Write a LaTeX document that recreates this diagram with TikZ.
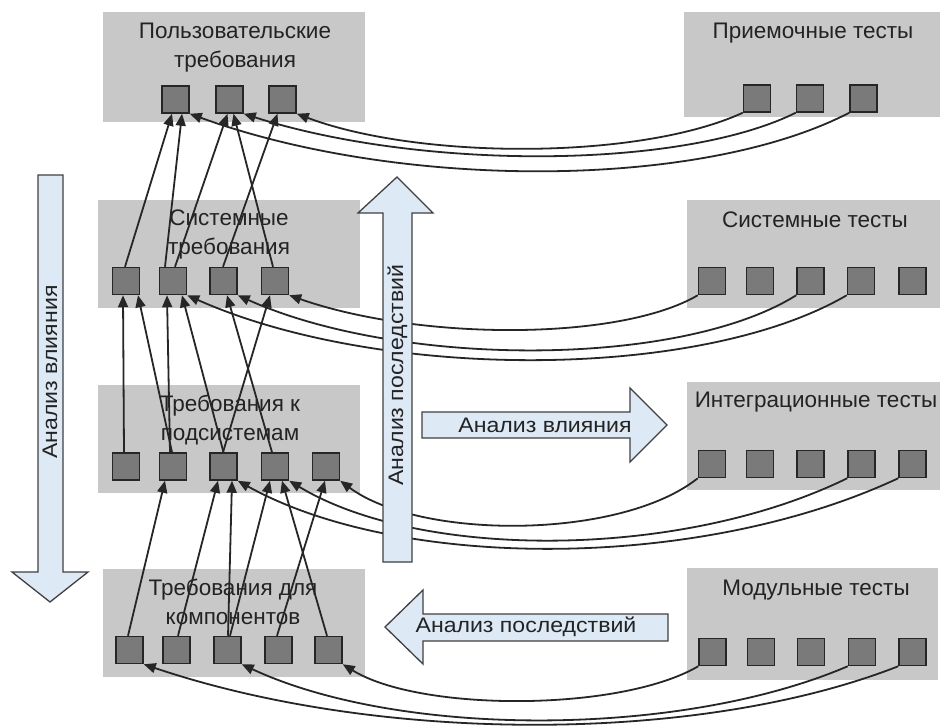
\documentclass[tikz,border=0pt]{standalone}
\usepackage{fontspec}
\setmainfont{Liberation Sans}
\newfontfamily\widesans[FakeStretch=1.1]{Liberation Sans}
\usetikzlibrary{arrows.meta}
\definecolor{boxgray}{RGB}{200,200,200}
\definecolor{sqgray}{RGB}{122,122,122}
\definecolor{arrfill}{RGB}{222,233,246}
\definecolor{txt}{RGB}{35,35,35}
\begin{document}
\begin{tikzpicture}[x=1pt,y=-1pt,
  sq/.style={draw=black!85,line width=1.5pt,fill=sqgray,minimum width=27pt,minimum height=27pt,inner sep=0pt},
  ttl/.style={text=txt,font=\fontsize{22.5}{29}\selectfont,align=center,inner sep=0pt},
  lnk/.style={draw=black!85,line width=1.8pt,-{Triangle[length=12pt,width=10pt]}},
  bigarr/.style={fill=arrfill,draw=black!75,line width=1.3pt},
  atxt/.style={text=txt,font=\widesans\fontsize{21}{24}\selectfont,inner sep=0pt}]
\useasboundingbox (0,0) rectangle (946,728);
\fill[white] (0,0) rectangle (946,728);
% group boxes
\fill[boxgray] (103,12) rectangle (365,122);
\fill[boxgray] (98,200) rectangle (360,308);
\fill[boxgray] (98,385) rectangle (360,493);
\fill[boxgray] (103,569) rectangle (365,677);
\fill[boxgray] (684,12) rectangle (940,117);
\fill[boxgray] (687,200) rectangle (940,308);
\fill[boxgray] (687,382) rectangle (940,490);
\fill[boxgray] (687,568) rectangle (938,680);
% titles
\node[ttl] (tP) at (235,48) {Пользовательские\\требования};
\node[ttl] (tS) at (229,234) {Системные\\требования};
\node[ttl] (tU) at (230,420) {Требования к\\подсистемам};
\node[ttl] (tC) at (233,602) {Требования для\\компонентов};
\node[ttl] (tA) at (813,33) {Приемочные тесты};
\node[ttl] (tT) at (815,220) {Системные тесты};
\node[ttl] (tI) at (816,402) {Интеграционные тесты};
\node[ttl] (tM) at (816,590) {Модульные тесты};
% squares
\node[sq] (p1) at (175.5,99.5) {};
\node[sq] (p2) at (229.5,99.5) {};
\node[sq] (p3) at (282.5,99.5) {};
\node[sq] (s1) at (126,281) {};
\node[sq] (s2) at (173,281) {};
\node[sq] (s3) at (223.5,281) {};
\node[sq] (s4) at (275,281) {};
\node[sq] (u1) at (126,466.5) {};
\node[sq] (u2) at (173,466.5) {};
\node[sq] (u3) at (223.5,466.5) {};
\node[sq] (u4) at (275,466.5) {};
\node[sq] (u5) at (326,466.5) {};
\node[sq] (c1) at (129.5,650) {};
\node[sq] (c2) at (176.5,650) {};
\node[sq] (c3) at (227.5,650) {};
\node[sq] (c4) at (278.5,650) {};
\node[sq] (c5) at (328.5,650) {};
\node[sq] (a1) at (757,98.5) {};
\node[sq] (a2) at (810,98.5) {};
\node[sq] (a3) at (863.5,98.5) {};
\node[sq] (t1) at (712,281) {};
\node[sq] (t2) at (760,281) {};
\node[sq] (t3) at (810.5,281) {};
\node[sq] (t4) at (861,281) {};
\node[sq] (t5) at (912.5,281) {};
\node[sq] (i1) at (712,464) {};
\node[sq] (i2) at (760,464) {};
\node[sq] (i3) at (810.5,464) {};
\node[sq] (i4) at (861.5,464) {};
\node[sq] (i5) at (912.5,464) {};
\node[sq] (m1) at (712.5,652) {};
\node[sq] (m2) at (761,652) {};
\node[sq] (m3) at (811,652) {};
\node[sq] (m4) at (862,652) {};
\node[sq] (m5) at (912.5,652) {};
% traces: system -> user
\draw[lnk] ([xshift=-1pt]s1.north) -- ([xshift=-3.5pt]p1.south);
\draw[lnk] ([xshift=-8pt]s2.north) -- ([xshift=6.5pt]p1.south);
\draw[lnk] ([xshift=2pt]s2.north) -- ([xshift=-2pt]p2.south);
\draw[lnk] ([xshift=-2pt]s4.north) -- ([xshift=4pt]p2.south);
\draw[lnk] ([xshift=-0.5pt]s3.north) -- ([xshift=-5pt]p3.south);
% subsystem -> system
\draw[lnk] ([xshift=-2pt]u1.north) -- ([xshift=-3pt]s1.south);
\draw[lnk] ([xshift=-1pt]u2.north) -- ([xshift=12pt]s1.south);
\draw[lnk] ([xshift=-3pt]u2.north) -- ([xshift=-6pt]s2.south);
\draw[lnk] (u3.north) -- ([xshift=9pt]s2.south);
\draw[lnk] ([xshift=-0.5pt]u3.north) -- ([xshift=-5pt]s4.south);
\draw[lnk] ([xshift=-3pt]u4.north) -- ([xshift=3.5pt]s3.south);
% component -> subsystem
\draw[lnk] ([xshift=-1.5pt]c1.north) -- ([xshift=-8pt]u2.south);
\draw[lnk] ([xshift=1.5pt]c2.north) -- ([xshift=-5.5pt]u3.south);
\draw[lnk] ([xshift=0.5pt]c3.north) -- ([xshift=8.5pt]u3.south);
\draw[lnk] ([xshift=2.5pt]c3.north) -- ([xshift=-5pt]u4.south);
\draw[lnk] ([xshift=-1.5pt]c4.north) -- ([xshift=-1pt]u5.south);
\draw[lnk] ([xshift=-1.5pt]c5.north) -- ([xshift=7pt]u4.south);
% acceptance tests -> user requirements
\draw[lnk] (a1.south west) .. controls (640,160) and (420,160) .. (p3.south east);
\draw[lnk] (a2.south west) .. controls (680,170) and (420,170) .. (p2.south east);
\draw[lnk] (a3.south west) .. controls (700,190) and (400,190) .. (p1.south east);
% system tests -> system requirements
\draw[lnk] (t1.south west) .. controls (620,341) and (420,341) .. (s4.south east);
\draw[lnk] (t3.south west) .. controls (680,368) and (400,368) .. (s3.south east);
\draw[lnk] (t4.south west) .. controls (700,381) and (380,381) .. (s2.south east);
% integration tests -> subsystem requirements
\draw[lnk] (i1.south west) .. controls (620,540) and (420,540) .. (u5.south east);
\draw[lnk] (i4.south west) .. controls (680,560) and (420,560) .. (u4.south east);
\draw[lnk] (i5.south west) .. controls (700,571) and (400,571) .. (u3.south east);
% module tests -> component requirements
\draw[lnk] (m1.south west) .. controls (620,712) and (420,712) .. (c5.south east);
\draw[lnk] (m4.south west) .. controls (680,738) and (400,738) .. (c3.south east);
\draw[lnk] (m5.south west) .. controls (700,744) and (380,744) .. (c1.south east);
% big arrows
\draw[bigarr] (38,175) -- (63,175) -- (63,572) -- (88,572) -- (50,602) -- (12,572) -- (38,572) -- cycle;
\draw[bigarr] (383,562) -- (383,213) -- (358,213) -- (397,177) -- (433,213) -- (412,213) -- (412,562) -- cycle;
\draw[bigarr] (422,412) -- (630,412) -- (630,388) -- (667,425) -- (630,462) -- (630,438) -- (422,438) -- cycle;
\draw[bigarr] (668,614) -- (423,614) -- (423,590) -- (385,627) -- (423,664) -- (423,641) -- (668,641) -- cycle;
\node[atxt,rotate=90] (lblL) at (50,372) {Анализ влияния};
\node[atxt,rotate=90] (lblU) at (397.5,375) {Анализ последствий};
\node[atxt] (lblR) at (545,425) {Анализ влияния};
\node[atxt] (lblB) at (526,627) {Анализ последствий};
\end{tikzpicture}
\end{document}
